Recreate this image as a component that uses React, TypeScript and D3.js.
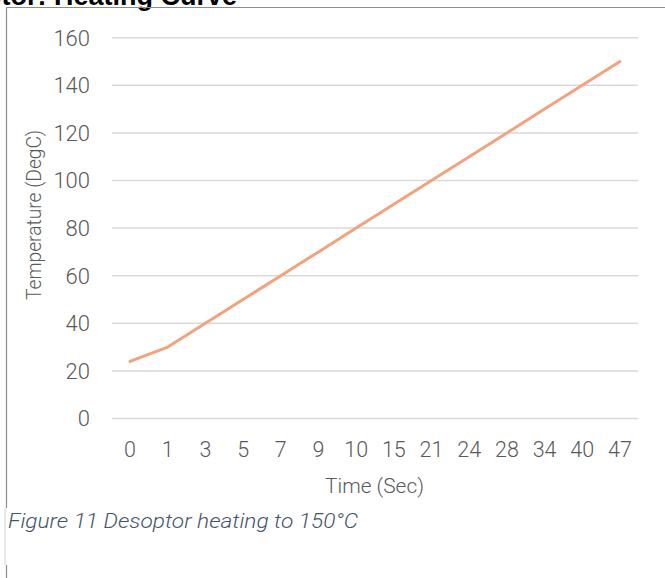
import React from "react";
import * as d3 from "d3";

const categories: string[] = ["0", "1", "3", "5", "7", "9", "10", "15", "21", "24", "28", "34", "40", "47"];
const temperatures: number[] = [24, 30, 40, 50, 60, 70, 80, 90, 100, 110, 120, 130, 140, 150];
const yTicks: number[] = [0, 20, 40, 60, 80, 100, 120, 140, 160];

const W = 665;
const H = 578;

export default function App() {
  const x = d3.scaleBand<string>().domain(categories).range([111.2, 638.8]);
  const y = d3.scaleLinear().domain([0, 160]).range([418.5, 37.7]);
  const data = categories.map((c, i) => ({ c, v: temperatures[i] }));
  const line = d3
    .line<{ c: string; v: number }>()
    .x((d) => (x(d.c) as number) + x.bandwidth() / 2)
    .y((d) => y(d.v));

  const font = "Roboto, 'Liberation Sans', Arial, sans-serif";
  const titleFont = "'Liberation Sans', Arial, sans-serif";
  const grey = "#595959";

  return (
    <svg
      width={W}
      height={H}
      style={{ position: "absolute", left: 0, top: 0, background: "#fff" }}
    >
      <rect x={0} y={0} width={W} height={H} fill="#fff" />
      {/* title, cut off at the top edge as in the source */}
      <text x={237} y={5} textAnchor="end" fontFamily={titleFont} fontWeight="bold" fontSize={27} fill="#000">
        Desoptor: Heating Curve
      </text>
      {/* chart border */}
      <line x1={6.5} y1={7.5} x2={W} y2={7.5} stroke="#8c8c8c" strokeWidth={1.2} />
      <line x1={6.5} y1={7.5} x2={6.5} y2={508} stroke="#8c8c8c" strokeWidth={1.2} />
      <line x1={6.5} y1={565} x2={6.5} y2={H} stroke="#8c8c8c" strokeWidth={1.2} />
      <line x1={5} y1={508} x2={5} y2={565} stroke="#d4d4d4" strokeWidth={1} />

      {/* gridlines */}
      {yTicks.map((t) => (
        <line key={"g" + t} x1={112} x2={638} y1={y(t)} y2={y(t)} stroke="#d9d9d9" strokeWidth={1.5} />
      ))}
      {/* y tick labels */}
      {yTicks.map((t) => (
        <text key={"yl" + t} x={90} y={y(t)} dy="0.36em" textAnchor="end" fontFamily={font} fontWeight={300} fontSize={22} fill={grey}>
          {t}
        </text>
      ))}
      {/* x tick labels */}
      {categories.map((c) => (
        <text key={"xl" + c} x={(x(c) as number) + x.bandwidth() / 2} y={457} textAnchor="middle" fontFamily={font} fontWeight={300} fontSize={21.5} fill={grey}>
          {c}
        </text>
      ))}
      {/* axis titles */}
      <text x={374.5} y={493} textAnchor="middle" fontFamily={font} fontWeight={300} fontSize={21} fill={grey} textLength={99} lengthAdjust="spacingAndGlyphs">
        Time (Sec)
      </text>
      <text
        transform="translate(41,215) rotate(-90)"
        textAnchor="middle"
        fontFamily={font}
        fontWeight={300}
        fontSize={21}
        fill={grey}
        textLength={170}
        lengthAdjust="spacingAndGlyphs"
      >
        Temperature (DegC)
      </text>

      {/* series line */}
      <path d={line(data) || ""} fill="none" stroke="#F2A27F" strokeWidth={3} strokeLinecap="round" strokeLinejoin="round" />

      {/* caption */}
      <text x={8} y={528} fontFamily={font} fontStyle="italic" fontWeight={300} fontSize={21} fill="#44546A" textLength={350} lengthAdjust="spacingAndGlyphs">
        Figure 11 Desoptor heating to 150°C
      </text>
    </svg>
  );
}
